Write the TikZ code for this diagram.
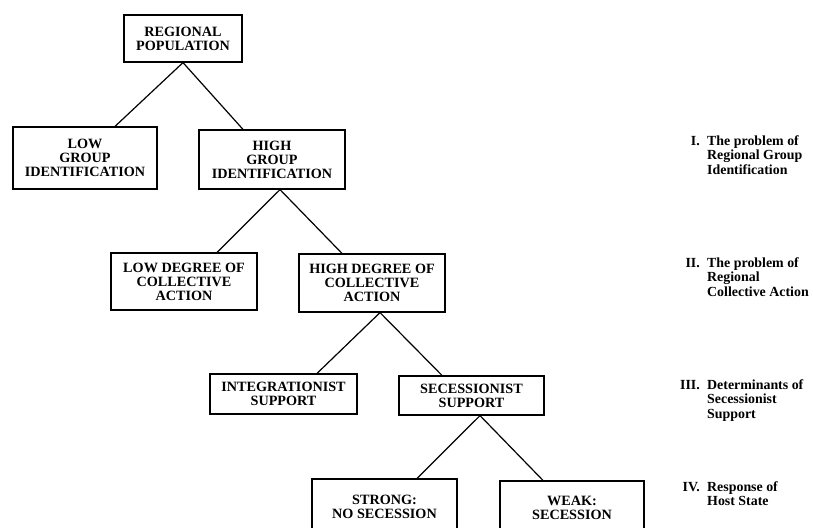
\documentclass[tikz,border=0pt]{standalone}
\usepackage{fontspec}
\setmainfont{Liberation Serif}
\begin{document}
\begin{tikzpicture}[x=1pt,y=-1pt,
  every node/.style={font=\bfseries\fontsize{14.2}{14}\selectfont},
  box/.style={draw,line width=1.2pt,inner sep=0pt,align=center},
  conn/.style={line width=1.2pt},
  lab/.style={anchor=base west,inner sep=0pt,font=\bfseries\fontsize{13.9}{14.5}\selectfont},
  num/.style={anchor=base east,inner sep=0pt,font=\bfseries\fontsize{13.9}{14.5}\selectfont}]
\useasboundingbox (0,0) rectangle (813,527);
\clip (0,0) rectangle (813,527);
% boxes
\node[box,minimum width=118pt,minimum height=47pt] (rp) at (183,38.5) {REGIONAL\\POPULATION};
\node[box,minimum width=144pt,minimum height=62pt] (lg) at (85,158) {LOW\\GROUP\\IDENTIFICATION};
\node[box,minimum width=146pt,minimum height=59pt] (hg) at (272,159.5) {HIGH\\GROUP\\IDENTIFICATION};
\node[box,minimum width=146pt,minimum height=57pt] (ld) at (184,281.5) {LOW DEGREE OF\\COLLECTIVE\\ACTION};
\node[box,minimum width=146pt,minimum height=58pt] (hd) at (372,283) {HIGH DEGREE OF\\COLLECTIVE\\ACTION};
\node[box,minimum width=147pt,minimum height=40pt] (is) at (283.5,394) {INTEGRATIONIST\\SUPPORT};
\node[box,minimum width=145pt,minimum height=39pt] (ss) at (471.5,395.5) {SECESSIONIST\\SUPPORT};
\node[box,minimum width=145pt,minimum height=56pt] (st) at (384.5,507) {STRONG:\\NO SECESSION};
\node[box,minimum width=144pt,minimum height=54pt] (wk) at (572,508) {WEAK:\\SECESSION};
% connectors
\draw[conn] (rp.south) -- ([xshift=30pt]lg.north);
\draw[conn] (rp.south) -- ([xshift=-29pt]hg.north);
\draw[conn] ([xshift=8pt]hg.south) -- ([xshift=33pt]ld.north);
\draw[conn] ([xshift=8pt]hg.south) -- ([xshift=-30pt]hd.north);
\draw[conn] ([xshift=8pt]hd.south) -- ([xshift=33.5pt]is.north);
\draw[conn] ([xshift=8pt]hd.south) -- ([xshift=-29.5pt]ss.north);
\draw[conn] ([xshift=8.5pt]ss.south) -- ([xshift=32.5pt]st.north);
\draw[conn] ([xshift=8.5pt]ss.south) -- ([xshift=-29pt]wk.north);
% level labels
\node[num] (n1) at (700,145) {I.};
\node[lab] (t1) at (707,145) {\begin{tabular}[t]{@{}l@{}}The problem of\\Regional Group\\Identification\end{tabular}};
\node[num] (n2) at (700,267) {II.};
\node[lab] (t2) at (707,267) {\begin{tabular}[t]{@{}l@{}}The problem of\\Regional\\Collective Action\end{tabular}};
\node[num] (n3) at (700,389) {III.};
\node[lab] (t3) at (707,389) {\begin{tabular}[t]{@{}l@{}}Determinants of\\Secessionist\\Support\end{tabular}};
\node[num] (n4) at (700,491) {IV.};
\node[lab] (t4) at (707,491) {\begin{tabular}[t]{@{}l@{}}Response of\\Host State\end{tabular}};
\end{tikzpicture}
\end{document}
